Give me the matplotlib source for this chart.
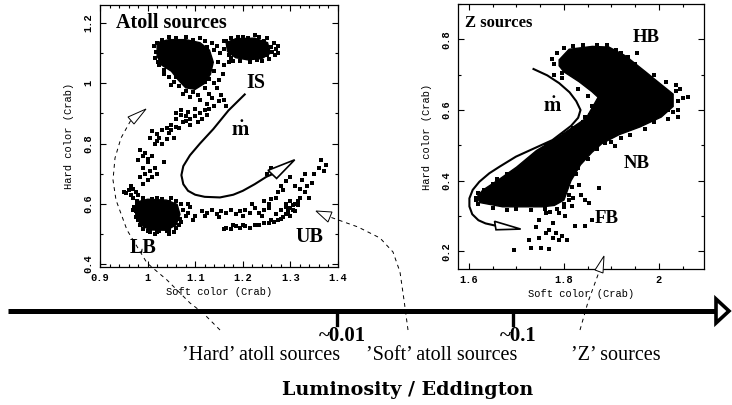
import numpy as np
import matplotlib
matplotlib.use("Agg")
import matplotlib.pyplot as plt
from matplotlib.patches import Polygon
from matplotlib.ticker import MultipleLocator, FuncFormatter

plt.rcParams['font.family'] = 'Liberation Mono'
plt.rcParams['font.weight'] = 'bold'
plt.rcParams['mathtext.fontset'] = 'stix'
SERIF = 'Liberation Serif'

# ---------------- Atoll sources (soft colour, hard colour) ----------------
atoll_core_top = [(1.02, 1.135), (1.045, 1.145), (1.08, 1.145), (1.11, 1.135), (1.13, 1.11),
                  (1.138, 1.07), (1.132, 1.03), (1.12, 1.0), (1.10, 0.98), (1.08, 0.985),
                  (1.065, 1.01), (1.05, 1.04), (1.03, 1.06), (1.02, 1.09)]
atoll_core_right = [(1.165, 1.135), (1.185, 1.148), (1.225, 1.15), (1.252, 1.135), (1.258, 1.10),
                    (1.24, 1.082), (1.21, 1.078), (1.185, 1.085), (1.168, 1.105)]
atoll_core_lb = [(0.975, 0.605), (1.0, 0.615), (1.04, 0.612), (1.062, 0.598), (1.068, 0.565),
                 (1.06, 0.53), (1.04, 0.512), (1.005, 0.513), (0.985, 0.53), (0.975, 0.565)]

atoll_upper_pts = [(1.013, 1.125), (1.018, 1.105), (1.015, 1.085), (1.025, 1.06), (1.035, 1.045),
                   (1.045, 1.02), (1.055, 1.005), (1.065, 0.99), (1.08, 0.975), (1.095, 0.97),
                   (1.105, 0.96), (1.12, 0.985), (1.13, 0.965), (1.14, 1.0), (1.14, 1.04),
                   (1.148, 1.07), (1.152, 1.10), (1.145, 1.125), (1.03, 1.145), (1.06, 1.15),
                   (1.095, 1.145), (1.12, 1.14), (1.16, 1.06), (1.158, 1.03), (1.15, 1.01),
                   (1.145, 0.985), (1.155, 0.96), (1.16, 0.945), (1.165, 0.925), (1.15, 0.94),
                   (1.135, 0.95), (1.125, 0.93), (1.14, 0.925), (1.11, 0.945), (1.16, 1.115),
                   (1.172, 1.07), (1.18, 1.075), (1.16, 1.14), (1.175, 1.15), (1.2, 1.155),
                   (1.235, 1.155), (1.25, 1.15), (1.265, 1.135), (1.27, 1.115), (1.268, 1.095),
                   (1.255, 1.08), (1.24, 1.075), (1.215, 1.072), (1.195, 1.075), (1.175, 1.083),
                   (1.02, 1.135), (1.028, 1.118), (1.022, 1.07), (1.03, 1.09), (1.04, 1.11),
                   (1.035, 1.03), (1.045, 1.055), (1.05, 0.995), (1.06, 1.02), (1.07, 1.01),
                   (1.075, 0.965), (1.085, 0.995), (1.09, 0.955), (1.10, 0.99), (1.105, 1.0),
                   (1.12, 1.005), (1.128, 1.015), (1.13, 1.05), (1.125, 1.12), (1.14, 1.11),
                   (1.135, 1.135), (1.11, 1.15), (1.08, 1.155), (1.045, 1.155), (1.065, 1.12),
                   (1.165, 1.14), (1.17, 1.12), (1.18, 1.14), (1.21, 1.15), (1.245, 1.14),
                   (1.26, 1.12), (1.262, 1.105), (1.25, 1.095), (1.23, 1.078), (1.2, 1.09),
                   (1.185, 1.095), (1.17, 1.095), (1.19, 1.155), (1.225, 1.16), (1.275, 1.125),
                   (1.275, 1.10)]

atoll_is_pts = [(1.06, 0.90), (1.07, 0.91), (1.08, 0.89), (1.09, 0.88), (1.10, 0.89), (1.11, 0.90),
                (1.12, 0.91), (1.06, 0.88), (1.075, 0.87), (1.09, 0.86), (1.105, 0.87), (1.115, 0.88),
                (1.125, 0.895), (1.13, 0.915), (1.05, 0.86), (1.04, 0.85), (1.06, 0.855),
                (1.01, 0.84), (1.02, 0.83), (1.03, 0.845), (1.045, 0.835), (1.055, 0.82),
                (1.04, 0.815), (1.02, 0.81), (1.005, 0.82), (1.015, 0.80), (1.03, 0.80),
                (1.05, 0.845), (1.065, 0.85), (0.985, 0.78), (0.995, 0.77), (0.99, 0.76),
                (1.0, 0.75), (1.01, 0.76), (1.0, 0.74), (0.99, 0.72), (1.005, 0.71), (0.995, 0.70),
                (1.01, 0.69), (1.0, 0.68), (0.985, 0.69), (1.015, 0.72), (0.98, 0.745),
                (1.02, 0.70), (0.99, 0.665), (1.035, 0.74), (1.07, 0.895), (1.085, 0.905),
                (1.10, 0.915), (1.08, 0.875), (1.025, 0.82)]

atoll_lb_pts = [(0.965, 0.66), (0.97, 0.65), (0.96, 0.645), (0.975, 0.64), (0.965, 0.63),
                (0.955, 0.635), (0.97, 0.62), (0.98, 0.63), (0.95, 0.64), (1.07, 0.60),
                (1.075, 0.58), (1.08, 0.56), (1.085, 0.57), (1.09, 0.59), (1.07, 0.54),
                (1.065, 0.53), (0.985, 0.53), (0.99, 0.515), (1.0, 0.51), (1.02, 0.505),
                (1.04, 0.51), (0.975, 0.555), (0.97, 0.58), (1.06, 0.61), (1.05, 0.62),
                (1.02, 0.62), (0.99, 0.61), (1.095, 0.545), (1.10, 0.56), (1.085, 0.60),
                (0.972, 0.59), (0.978, 0.61), (0.99, 0.62), (1.01, 0.615), (1.03, 0.615),
                (1.045, 0.605), (1.062, 0.58), (1.068, 0.55), (1.06, 0.52), (1.045, 0.512),
                (1.025, 0.51), (1.01, 0.52), (0.995, 0.525), (0.98, 0.545), (0.975, 0.575),
                (1.005, 0.505), (1.015, 0.50), (1.045, 0.50), (1.055, 0.505)]

atoll_ub_pts = [(1.115, 0.575), (1.125, 0.57), (1.135, 0.58), (1.145, 0.565), (1.155, 0.575),
                (1.165, 0.57), (1.175, 0.58), (1.185, 0.565), (1.195, 0.575), (1.205, 0.58),
                (1.215, 0.57), (1.225, 0.585), (1.235, 0.57), (1.245, 0.58), (1.255, 0.585),
                (1.12, 0.56), (1.15, 0.555), (1.20, 0.56), (1.24, 0.56),
                (1.165, 0.52), (1.175, 0.515), (1.185, 0.525), (1.195, 0.52), (1.205, 0.525),
                (1.215, 0.52), (1.225, 0.53), (1.235, 0.528), (1.245, 0.535), (1.255, 0.535),
                (1.265, 0.54), (1.275, 0.545), (1.285, 0.555), (1.29, 0.565), (1.295, 0.575),
                (1.30, 0.585), (1.305, 0.595), (1.31, 0.60), (1.315, 0.61), (1.32, 0.62),
                (1.305, 0.58), (1.31, 0.575), (1.29, 0.59), (1.28, 0.58), (1.27, 0.565),
                (1.30, 0.61), (1.29, 0.60), (1.30, 0.56), (1.18, 0.53), (1.20, 0.53), (1.16, 0.515),
                (1.27, 0.62), (1.275, 0.64), (1.28, 0.66), (1.285, 0.645), (1.29, 0.675),
                (1.30, 0.69), (1.31, 0.66), (1.32, 0.65), (1.325, 0.68), (1.33, 0.70),
                (1.335, 0.66), (1.345, 0.67), (1.35, 0.70), (1.36, 0.72), (1.365, 0.745),
                (1.37, 0.71), (1.375, 0.73), (1.34, 0.62), (1.33, 0.64), (1.255, 0.60),
                (1.26, 0.615), (1.22, 0.60), (1.245, 0.61), (1.25, 0.70), (1.26, 0.72),
                (1.26, 0.545), (1.28, 0.55), (1.295, 0.565), (1.315, 0.595)]

atoll_track = [(1.204, 0.963), (1.17, 0.91), (1.138, 0.848), (1.11, 0.80), (1.089, 0.761),
               (1.075, 0.725), (1.071, 0.695), (1.075, 0.665), (1.085, 0.643), (1.10, 0.63),
               (1.12, 0.623), (1.152, 0.621), (1.18, 0.63), (1.20, 0.643), (1.225, 0.665),
               (1.25, 0.69), (1.262, 0.698)]
atoll_head = [(1.253, 0.711), (1.271, 0.684), (1.309, 0.746)]

# ---------------- Z sources ----------------
z_band = [(1.790, 0.742), (1.811, 0.772), (1.860, 0.780), (1.895, 0.778), (1.930, 0.753),
          (1.972, 0.708), (2.005, 0.672), (2.030, 0.645), (2.030, 0.610), (2.005, 0.580),
          (1.960, 0.552), (1.916, 0.530), (1.880, 0.505), (1.859, 0.480), (1.835, 0.445),
          (1.815, 0.400), (1.800, 0.345), (1.780, 0.330), (1.755, 0.326), (1.671, 0.326),
          (1.623, 0.338), (1.617, 0.354), (1.629, 0.373), (1.665, 0.405), (1.700, 0.438),
          (1.742, 0.485), (1.790, 0.525), (1.847, 0.577), (1.872, 0.636), (1.859, 0.652),
          (1.832, 0.680), (1.800, 0.708), (1.790, 0.725)]

z_pts = [(1.775, 0.745), (1.873, 0.742), (1.953, 0.760), (1.936, 0.751), (1.94, 0.735),
         (1.978, 0.676), (2.04, 0.600), (2.061, 0.638), (2.051, 0.633), (2.04, 0.581),
         (2.019, 0.600), (2.045, 0.66), (2.035, 0.67), (1.908, 0.497), (1.887, 0.506),
         (1.762, 0.500), (1.845, 0.581), (1.859, 0.610), (1.866, 0.544),
         (1.636, 0.346), (1.615, 0.350), (1.619, 0.365), (1.713, 0.402), (1.78, 0.70),
         (1.795, 0.69), (1.83, 0.66), (1.85, 0.64),
         (1.790, 0.374), (1.817, 0.383), (1.831, 0.388), (1.845, 0.346), (1.852, 0.337),
         (1.873, 0.379), (1.810, 0.346), (1.790, 0.308), (1.803, 0.299), (1.762, 0.308),
         (1.748, 0.289), (1.776, 0.280), (1.769, 0.261), (1.783, 0.252), (1.797, 0.242),
         (1.807, 0.233), (1.790, 0.233), (1.748, 0.238), (1.727, 0.233), (1.731, 0.209),
         (1.752, 0.209), (1.769, 0.207), (1.695, 0.205), (1.824, 0.271), (1.845, 0.271),
         (1.859, 0.289), (1.817, 0.327), (1.741, 0.270), (1.762, 0.252), (1.776, 0.238),
         (1.82, 0.35), (1.835, 0.36), (1.80, 0.325), (1.785, 0.32), (1.77, 0.31),
         (1.80, 0.775), (1.82, 0.78), (1.84, 0.785), (1.87, 0.785), (1.89, 0.783),
         (1.91, 0.77), (1.92, 0.76), (1.95, 0.73), (1.99, 0.70), (2.015, 0.68),
         (2.035, 0.655), (2.04, 0.625), (2.03, 0.595), (2.02, 0.575), (1.99, 0.565),
         (1.97, 0.545), (1.94, 0.53), (1.92, 0.52), (1.78, 0.73), (1.785, 0.76),
         (1.795, 0.705), (1.62, 0.335), (1.615, 0.345), (1.632, 0.375), (1.65, 0.39),
         (1.66, 0.405), (1.68, 0.42), (1.71, 0.44), (1.73, 0.46), (1.75, 0.48),
         (1.77, 0.50), (1.80, 0.53), (1.82, 0.548), (1.84, 0.565), (1.862, 0.60),
         (1.855, 0.585), (1.70, 0.32), (1.73, 0.318), (1.76, 0.32), (1.65, 0.322),
         (1.68, 0.318), (1.80, 0.335), (1.81, 0.36), (1.825, 0.42), (1.83, 0.435),
         (1.85, 0.46), (1.87, 0.49), (1.90, 0.51)]

z_track = [(1.736, 0.716), (1.765, 0.698), (1.790, 0.676), (1.812, 0.650), (1.826, 0.625),
           (1.835, 0.600), (1.830, 0.578), (1.815, 0.555), (1.776, 0.515), (1.735, 0.490),
           (1.699, 0.468), (1.665, 0.44), (1.643, 0.421), (1.622, 0.397), (1.608, 0.374),
           (1.601, 0.350), (1.601, 0.327), (1.607, 0.305), (1.620, 0.288), (1.635, 0.279),
           (1.655, 0.273)]
z_head = [(1.654, 0.285), (1.657, 0.261), (1.709, 0.263)]

# ---------------- luminosity axis ----------------
lum_ticks = ['~0.01', '~0.1']
lum_groups = ['\u2019Hard\u2019 atoll sources', '\u2019Soft\u2019 atoll sources', '\u2019Z\u2019 sources']


def style_axes(ax, xmaj, xmin, ymaj, ymin):
    ax.xaxis.set_major_locator(MultipleLocator(xmaj))
    ax.xaxis.set_minor_locator(MultipleLocator(xmin))
    ax.yaxis.set_major_locator(MultipleLocator(ymaj))
    ax.yaxis.set_minor_locator(MultipleLocator(ymin))
    fmt = FuncFormatter(lambda v, p: '%g' % round(v, 3))
    ax.xaxis.set_major_formatter(fmt)
    ax.yaxis.set_major_formatter(fmt)
    ax.tick_params(which='both', direction='in', top=True, right=True, width=0.8,
                   labelsize=7.5, pad=4.5)
    ax.tick_params(which='major', length=4)
    ax.tick_params(which='minor', length=2)
    ax.tick_params(axis='y', labelrotation=90)
    for lab in ax.get_yticklabels():
        lab.set_va('center')
    for s in ax.spines.values():
        s.set_linewidth(0.9)
    ax.set_xlabel('Soft color (Crab)', fontsize=7.5, labelpad=3)
    ax.set_ylabel('Hard color (Crab)', fontsize=7.5, labelpad=7)


def dots(ax, pts):
    p = np.array(pts)
    ax.scatter(p[:, 0], p[:, 1], s=6, marker='s', c='k', linewidths=0)


def track(ax, line, head):
    p = np.array(line)
    ax.plot(p[:, 0], p[:, 1], color='k', lw=1.5)
    ax.add_patch(Polygon(head, closed=True, fc='w', ec='k', lw=1.2, zorder=4))


fig = plt.figure(figsize=(7.32, 4.05), dpi=100)

# left panel: atoll
ax1 = fig.add_axes([100 / 732, 138 / 405, 238 / 732, 262 / 405])
ax1.set_xlim(0.9, 1.4)
ax1.set_ylim(0.39, 1.26)
for poly in (atoll_core_top, atoll_core_right, atoll_core_lb):
    ax1.add_patch(Polygon(poly, closed=True, fc='k', ec='k', lw=1.0))
for pts in (atoll_upper_pts, atoll_is_pts, atoll_lb_pts, atoll_ub_pts):
    dots(ax1, pts)
track(ax1, atoll_track, atoll_head)
style_axes(ax1, 0.1, 0.02, 0.2, 0.1)
ax1.text(0.934, 1.2, 'Atoll sources', family=SERIF, fontsize=14.5, va='center')
ax1.text(1.227, 1.0, 'IS', family=SERIF, fontsize=14.5, ha='center', va='center')
ax1.text(0.991, 0.454, 'LB', family=SERIF, fontsize=14.5, ha='center', va='center')
ax1.text(1.341, 0.491, 'UB', family=SERIF, fontsize=14.5, ha='center', va='center')
ax1.text(1.196, 0.845, r'$\dot{\mathbf{m}}$', fontsize=15, ha='center', va='center')

# right panel: Z
ax2 = fig.add_axes([458 / 732, 136 / 405, 246 / 732, 265 / 405])
ax2.set_xlim(1.577, 2.095)
ax2.set_ylim(0.15, 0.9)
ax2.add_patch(Polygon(z_band, closed=True, fc='k', ec='k', lw=1.0))
dots(ax2, z_pts)
track(ax2, z_track, z_head)
style_axes(ax2, 0.2, 0.05, 0.2, 0.1)
ax2.text(1.591, 0.845, 'Z sources', family=SERIF, fontsize=12, va='center')
ax2.text(1.974, 0.806, 'HB', family=SERIF, fontsize=13.5, ha='center', va='center')
ax2.text(1.953, 0.450, 'NB', family=SERIF, fontsize=13.5, ha='center', va='center')
ax2.text(1.891, 0.294, 'FB', family=SERIF, fontsize=13.5, ha='center', va='center')
ax2.text(1.775, 0.61, r'$\dot{\mathbf{m}}$', fontsize=15, ha='center', va='center')

# overlay in pixel coordinates: luminosity axis and links
ov = fig.add_axes([0, 0, 1, 1], zorder=5)
ov.set_xlim(0, 732)
ov.set_ylim(405, 0)
ov.axis('off')
ov.patch.set_alpha(0)

ov.plot([8, 716], [311, 311], color='k', lw=3.6, solid_capstyle='butt')
ov.add_patch(Polygon([(716, 299), (716, 323), (729, 311)], closed=True, fc='w', ec='k',
                     lw=2.6, joinstyle='miter'))
for xt, lab in zip([337, 513], lum_ticks):
    ov.plot([xt, xt], [311, 325], color='k', lw=2.4)
    ov.text(xt + 5, 336, lab, family=SERIF, fontsize=15, fontweight='bold',
            ha='center', va='center')
for xc, lab in zip([261, 442, 616], lum_groups):
    ov.text(xc, 356, lab, family=SERIF, fontweight='normal', fontsize=14.5,
            ha='center', va='center')
ov.text(408, 390, 'Luminosity / Eddington', family='DejaVu Serif', fontweight='bold',
        fontsize=13.8, ha='center', va='center')

hard_link = [(220, 330), (203, 313), (190, 303), (167, 280), (147, 263), (127, 230),
             (116, 200), (113, 180), (115, 158), (121, 138), (131, 120)]
soft_link = [(408, 330), (404, 300), (400, 272), (393, 252), (380, 238), (358, 227), (330, 217)]
z_link = [(580, 330), (588, 302), (599, 272)]
for link in (hard_link, soft_link, z_link):
    p = np.array(link)
    ov.plot(p[:, 0], p[:, 1], color='k', lw=0.7, ls=(0, (4, 4)))
for head in ([(128, 117), (134, 124), (146, 109)],
             [(316, 211), (328, 222), (332, 212)],
             [(604, 256), (595, 270), (603, 273)]):
    ov.add_patch(Polygon(head, closed=True, fc='w', ec='k', lw=0.7))

fig.savefig('out.png', dpi=100)
